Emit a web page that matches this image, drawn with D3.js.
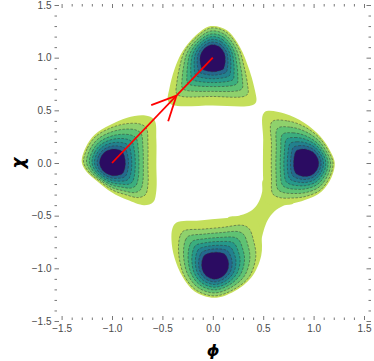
<!DOCTYPE html>
<html>
<head>
<meta charset="utf-8">
<script src="https://d3js.org/d3.v7.min.js"></script>
<style>
  body { margin: 0; background: #fff; }
  svg { display: block; font-family: "Liberation Sans", Arial, sans-serif; }
  .tick text { fill: #4a4a4a; font-size: 10px; }
</style>
</head>
<body>
<div id="chart"></div>
<script>
// blob centres (phi, chi), where the dark spots sit
var blobCentres = [[0.0, 1.0], [-1.0, 0.0], [0.93, 0.0], [0.02, -0.98]];

// outer (yellow) outline of each blob
var topOutline = [[-0.02, 1.30], [0.14, 1.26], [0.27, 1.10], [0.36, 0.89], [0.42, 0.68], [0.43, 0.58],
    [0.38, 0.545], [0.0, 0.545], [-0.40, 0.55], [-0.445, 0.59], [-0.43, 0.71], [-0.38, 0.89],
    [-0.30, 1.06], [-0.17, 1.21]];
var leftOutline = [[-1.30, 0.01], [-1.26, 0.15], [-1.17, 0.27], [-1.02, 0.36], [-0.85, 0.43], [-0.67, 0.45],
    [-0.58, 0.41], [-0.56, 0.22], [-0.56, -0.02], [-0.56, -0.26], [-0.59, -0.37], [-0.68, -0.40],
    [-0.85, -0.35], [-1.0, -0.28], [-1.15, -0.17], [-1.25, -0.085]];
var rightOutline = [[0.51, 0.48], [0.71, 0.47], [0.91, 0.38], [1.07, 0.25], [1.17, 0.105], [1.21, 0.0],
    [1.18, -0.13], [1.08, -0.27], [0.92, -0.35], [0.76, -0.39], [0.60, -0.40], [0.515, -0.36],
    [0.50, -0.16], [0.50, 0.22]];
var bottomOutline = [[-0.41, -0.73], [-0.40, -0.62], [-0.36, -0.565], [-0.13, -0.545], [0.11, -0.525],
    [0.36, -0.50], [0.44, -0.54], [0.48, -0.69], [0.48, -0.88], [0.38, -1.09], [0.21, -1.22],
    [0.015, -1.28], [-0.18, -1.22], [-0.30, -1.08], [-0.38, -0.90]];
var blobOutlines = [topOutline, leftOutline, rightOutline, bottomOutline];

// yellow neck joining the bottom and right blobs
var bridgeOutline = [[0.15, -0.52], [0.26, -0.50], [0.34, -0.475], [0.41, -0.43], [0.46, -0.36],
    [0.49, -0.27], [0.50, -0.16], [0.62, -0.15], [0.80, -0.38], [0.70, -0.405], [0.61, -0.46],
    [0.545, -0.54], [0.505, -0.64], [0.48, -0.74], [0.475, -0.80], [0.30, -0.70]];

// contour levels, outside in (0 = the outline itself)
var levelT = [0, 1.0, 0.9, 0.8, 0.71, 0.62, 0.53, 0.44];
var levelColors = ["#c4df5b", "#8fd16c", "#5fc273", "#3bae7e", "#26988a", "#22818e", "#24698d", "#2b0c62"];

var majorTicks = [-1.5, -1.0, -0.5, 0.0, 0.5, 1.0, 1.5];

var arrowFrom = [-1.0, 0.0];
var arrowTo = [0.0, 1.0];
var arrowHead = [-0.36, 0.64];

var width = 374, height = 361;
var x = d3.scaleLinear().domain([-1.5, 1.5]).range([61.6, 364]);
var y = d3.scaleLinear().domain([-1.5, 1.5]).range([321, 5]);

var circleR = 0.28;   // inner rings tend to circles
var shrinkOut = 0.94, shrinkIn = 0.13;

var svg = d3.select("#chart").append("svg")
    .attr("width", width)
    .attr("height", height);

var line = d3.line()
    .x(function (d) { return x(d[0]); })
    .y(function (d) { return y(d[1]); })
    .curve(d3.curveCatmullRomClosed.alpha(0.5));

function ring(centre, outline, t) {
    if (t === 0) return outline;
    var n = Math.hypot(centre[0], centre[1]);
    var ux = centre[0] / n, uy = centre[1] / n;
    return outline.map(function (p) {
        var dx = p[0] - centre[0], dy = p[1] - centre[1];
        var r = Math.hypot(dx, dy);
        var cos = (dx * ux + dy * uy) / r;
        var f = Math.max(0, Math.min(1, (0.2 - cos) / 0.9));
        var s = shrinkOut - shrinkIn * f;
        var w = Math.pow(t, 1.5);
        var k = t * ((1 - w) * circleR / r + w * s);
        return [centre[0] + dx * k, centre[1] + dy * k];
    });
}

var plot = svg.append("g");

levelT.forEach(function (t, li) {
    var g = plot.append("g");
    if (li === 0) {
        g.append("path")
            .attr("d", line(bridgeOutline))
            .attr("fill", levelColors[0]);
    }
    blobOutlines.forEach(function (outline, bi) {
        g.append("path")
            .attr("d", line(ring(blobCentres[bi], outline, t)))
            .attr("fill", levelColors[li])
            .attr("stroke", li === 0 ? "none" : "#333")
            .attr("stroke-width", 0.7)
            .attr("stroke-opacity", 0.7)
            .attr("stroke-dasharray", "2.5,1.5");
    });
});

// red arrow
var ax0 = x(arrowFrom[0]), ay0 = y(arrowFrom[1]), ax1 = x(arrowTo[0]), ay1 = y(arrowTo[1]);
svg.append("line")
    .attr("x1", ax0).attr("y1", ay0).attr("x2", ax1).attr("y2", ay1)
    .attr("stroke", "#ff0000").attr("stroke-width", 1.8);
var ang = Math.atan2(ay1 - ay0, ax1 - ax0);
var hx = x(arrowHead[0]), hy = y(arrowHead[1]);
[-0.45, 0.45].forEach(function (da) {
    svg.append("line")
        .attr("x1", hx).attr("y1", hy)
        .attr("x2", hx - 27 * Math.cos(ang + da))
        .attr("y2", hy - 27 * Math.sin(ang + da))
        .attr("stroke", "#ff0000").attr("stroke-width", 1.8);
});

// frame ticks
var fmt = d3.format(".1f");
var minorTicks = d3.range(-15, 16).filter(function (i) { return i % 5 !== 0; })
    .map(function (i) { return i / 10; });

function tidy(g) {
    g.select(".domain").remove();
    g.attr("color", "#777");
}

function frame(axis, tr, size, labels, vals) {
    svg.append("g")
        .attr("transform", tr)
        .call(axis.tickValues(vals).tickSize(size).tickPadding(3)
            .tickFormat(labels ? fmt : ""))
        .call(tidy);
}

frame(d3.axisLeft(y), "translate(54.5,0)", -4.5, true, majorTicks);
frame(d3.axisLeft(y), "translate(54.5,0)", -2.5, false, minorTicks);
frame(d3.axisRight(y), "translate(371,0)", -4.5, false, majorTicks);
frame(d3.axisRight(y), "translate(371,0)", -2.5, false, minorTicks);
frame(d3.axisTop(x), "translate(0,4)", -4, false, majorTicks);
frame(d3.axisTop(x), "translate(0,4)", -2.5, false, minorTicks);

svg.append("g")
    .attr("transform", "translate(0,320)")
    .call(d3.axisBottom(x).tickValues(majorTicks).tickSize(-4).tickPadding(5).tickFormat(fmt))
    .call(tidy);
svg.append("g")
    .attr("transform", "translate(0,320)")
    .call(d3.axisBottom(x).tickValues(minorTicks).tickSize(-2.5).tickFormat(""))
    .call(tidy);

// axis titles
svg.append("text")
    .attr("transform", "translate(18,163) rotate(-90)")
    .attr("text-anchor", "middle")
    .attr("dominant-baseline", "central")
    .style("font-family", "'DejaVu Sans', sans-serif")
    .style("font-size", "17px")
    .style("font-weight", "bold")
    .style("font-style", "italic")
    .text("χ");
svg.append("text")
    .attr("x", 213).attr("y", 350)
    .attr("text-anchor", "middle")
    .attr("dominant-baseline", "central")
    .style("font-family", "'DejaVu Sans', sans-serif")
    .style("font-size", "16px")
    .style("font-weight", "bold")
    .style("font-style", "italic")
    .text("ϕ");
</script>
</body>
</html>
